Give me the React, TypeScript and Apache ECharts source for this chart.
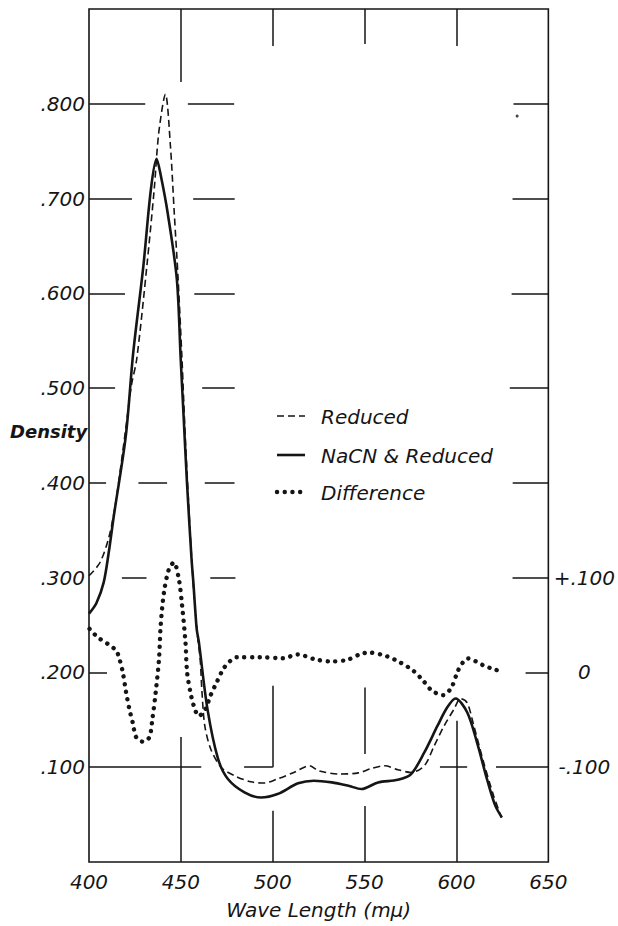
import React, { useEffect, useRef } from "react";
import * as echarts from "echarts";

// Wave length (mμ) and density
const reducedPoints: [number, number][] = [
  [400, 0.302], [406, 0.316], [411, 0.344], [414.5, 0.379], [420, 0.457],
  [423, 0.502], [426, 0.531], [431.5, 0.629], [435.5, 0.71], [438, 0.77],
  [441.6, 0.81], [444.3, 0.756], [446.4, 0.685], [448.5, 0.615], [450.6, 0.531],
  [452.6, 0.44], [456.5, 0.3], [459, 0.24], [460.5, 0.214], [461.5, 0.179],
  [463, 0.144], [466.3, 0.119], [472, 0.0998], [479.2, 0.091], [488.1, 0.0846],
  [495.3, 0.0833], [502.5, 0.0876], [511.5, 0.0945], [520, 0.1016], [525, 0.0963],
  [535.8, 0.0928], [546.6, 0.094], [553.7, 0.0987], [561, 0.1016], [568.1, 0.0974],
  [575.3, 0.0945], [582.5, 0.1016], [587.9, 0.1227], [593.3, 0.1438], [598.7, 0.1614],
  [602.2, 0.1725], [605.8, 0.168], [609.4, 0.144], [614.8, 0.105], [620.2, 0.07],
  [624.5, 0.047],
];

const nacnPoints: [number, number][] = [
  [400, 0.262], [404, 0.273], [408, 0.295], [411, 0.33], [413.5, 0.365], [420, 0.449],
  [424, 0.536], [429.6, 0.629], [433.7, 0.71], [436.8, 0.742], [439.1, 0.724],
  [442.8, 0.685], [447.8, 0.615], [449.9, 0.531], [451.5, 0.47], [453.3, 0.401],
  [455.8, 0.32], [456.8, 0.295], [458.6, 0.246], [459.8, 0.232], [464.5, 0.161],
  [470.2, 0.109], [475.6, 0.0876], [484.6, 0.0735], [493.6, 0.068], [502.6, 0.0717],
  [513.8, 0.083], [522.4, 0.0858], [532.2, 0.084], [541.2, 0.0804], [548.3, 0.077],
  [557.3, 0.084], [568.1, 0.0867], [575.3, 0.0927], [582.5, 0.1156], [589.7, 0.1438],
  [595, 0.1632], [599.5, 0.1725], [605.8, 0.158], [611.2, 0.126], [616.6, 0.0875],
  [621, 0.06], [624.7, 0.047],
];

// Difference, read on the right-hand axis
const differencePoints: [number, number][] = [
  [400.3, 0.046], [404.8, 0.037], [410.3, 0.03], [414.8, 0.023], [416.6, 0.014],
  [418.4, 0.0], [420.2, -0.021], [422, -0.039], [423.8, -0.053], [425.7, -0.0685],
  [429.2, -0.073], [432.8, -0.0685], [434.5, -0.049], [436.3, -0.021], [438.1, 0.014],
  [439, 0.049], [440.8, 0.0845], [443.5, 0.109], [446.2, 0.116], [448.9, 0.0985],
  [450.7, 0.07], [452.5, 0.032], [453.4, 0.0], [455.2, -0.021], [457, -0.035],
  [459.7, -0.046], [463.3, -0.039], [466, -0.025], [469.6, -0.01], [473.2, 0.004],
  [476.8, 0.012], [480.4, 0.016], [493, 0.016], [505.5, 0.015], [513.7, 0.019],
  [522.7, 0.014], [531.6, 0.0116], [540.6, 0.0133], [547.8, 0.0194], [552.3, 0.021],
  [562.2, 0.017], [569.3, 0.0106], [576.5, 0.0018], [582, -0.009], [586.5, -0.019],
  [592.7, -0.024], [597.2, -0.016], [600.8, 0.0018], [603.5, 0.0106], [606.2, 0.0148],
  [614.3, 0.0078], [621.4, 0.0027], [625.9, 0.001],
];

// stray speck in the print
const speckPoints: [number, number][] = [[633, 0.787]];

// hand-drawn partial grid: horizontal [x1, x2, density], vertical [wave, y1, y2]
const gridHorizontal: [number, number, number][] = [
  [400, 430.6, 0.8], [453.8, 479, 0.8], [631, 650, 0.8],
  [400, 423.4, 0.7], [456.7, 479.3, 0.7], [630.5, 650, 0.7],
  [400, 419.6, 0.6], [457.3, 479.3, 0.6], [630, 650, 0.6],
  [400, 414.2, 0.5], [461.6, 479.3, 0.5], [629, 650, 0.5],
  [400, 409.3, 0.4], [426.9, 442.5, 0.4], [463, 479.2, 0.4], [630.6, 650, 0.4],
  [417.9, 431.3, 0.3], [466, 479.7, 0.3], [630.5, 650, 0.3],
  [400, 409.8, 0.2], [637.6, 650, 0.2],
  [400, 461.1, 0.1], [484.4, 500, 0.1], [591, 605.8, 0.1], [621.5, 650, 0.1],
];
const gridVertical: [number, number, number][] = [
  [450, 0.823, 0.9], [450, 0, 0.132],
  [500, 0.861, 0.9], [500, 0.1, 0.186], [500, 0, 0.054],
  [550, 0.863, 0.9], [550, 0.114, 0.184], [550, 0, 0.059],
  [600, 0.861, 0.9], [600, 0, 0.149],
];

const legendNames = ["Reduced", "NaCN & Reduced", "Difference"];
const xAxisTitle = "Wave Length (mμ)";
const yAxisTitle = "Density";

const INK = "#151515";
const FONT = "DejaVu Sans";

const leftLabel = (v: number) => {
  const k = Math.round(v * 1000);
  if (k <= 0 || k >= 900) return "";
  return "." + String(k);
};
const rightLabel = (v: number) => {
  const k = Math.round(v * 1000);
  if (k === 100) return "+.100";
  if (k === 0) return "0";
  if (k === -100) return "-.100";
  return "";
};

const dashedStyle = { color: INK, width: 1.6, type: [7, 4] as number[] };
const solidStyle = { color: INK, width: 2.6 };
const dottedStyle = { color: INK, width: 4.4, type: [0.1, 7.6] as number[], cap: "round" as const };

export default function App() {
  const ref = useRef<HTMLDivElement>(null);

  useEffect(() => {
    if (!ref.current) return;
    const chart = echarts.init(ref.current, undefined, { renderer: "svg" });

    const labelStyle = {
      color: INK,
      fontFamily: FONT,
      fontStyle: "italic" as const,
      fontSize: 20,
    };
    const textStyle = {
      fill: INK,
      fontFamily: FONT,
      fontStyle: "italic",
      fontSize: 20,
    };

    const segments = [
      ...gridHorizontal.map(([x1, x2, y]) => [{ coord: [x1, y] }, { coord: [x2, y] }]),
      ...gridVertical.map(([x, y1, y2]) => [{ coord: [x, y1] }, { coord: [x, y2] }]),
    ];

    const legendRows = [
      { name: legendNames[0], y: 416, line: { stroke: INK, lineWidth: dashedStyle.width, lineDash: dashedStyle.type } },
      { name: legendNames[1], y: 455, line: { stroke: INK, lineWidth: solidStyle.width } },
      { name: legendNames[2], y: 492, line: { stroke: INK, lineWidth: dottedStyle.width, lineDash: dottedStyle.type, lineCap: "round" } },
    ];
    const legendGraphics = legendRows.flatMap((r) => [
      { type: "line", shape: { x1: 277, y1: r.y, x2: 305, y2: r.y }, style: r.line, silent: true },
      {
        type: "text",
        x: 321,
        y: r.y + 1,
        style: { ...textStyle, text: r.name, verticalAlign: "middle", align: "left" },
        silent: true,
      },
    ]);

    chart.setOption({
      animation: false,
      backgroundColor: "#ffffff",
      grid: {
        left: 89,
        right: 64,
        top: 9,
        bottom: 64,
        show: true,
        borderColor: INK,
        borderWidth: 1.6,
        backgroundColor: "transparent",
      },
      xAxis: {
        type: "value",
        min: 400,
        max: 650,
        interval: 50,
        axisLine: { show: false },
        axisTick: { show: false },
        splitLine: { show: false },
        axisLabel: { ...labelStyle, margin: 10, showMinLabel: true, showMaxLabel: true },
        name: xAxisTitle,
        nameLocation: "middle",
        nameGap: 38,
        nameTextStyle: { ...labelStyle },
      },
      yAxis: [
        {
          type: "value",
          min: 0,
          max: 0.9,
          interval: 0.1,
          axisLine: { show: false },
          axisTick: { show: false },
          splitLine: { show: false },
          axisLabel: { ...labelStyle, margin: 4, formatter: leftLabel },
        },
        {
          type: "value",
          position: "right",
          min: -0.2,
          max: 0.7,
          interval: 0.1,
          axisLine: { show: false },
          axisTick: { show: false },
          splitLine: { show: false },
          axisLabel: { ...labelStyle, margin: 36, align: "center", formatter: rightLabel },
        },
      ],
      graphic: [
        {
          type: "text",
          left: 10,
          top: 422,
          style: { ...textStyle, text: yAxisTitle, fontWeight: "bold", fontSize: 18 },
        },
        ...legendGraphics,
      ],
      series: [
        {
          name: legendNames[0],
          type: "line",
          data: reducedPoints,
          symbol: "none",
          showSymbol: false,
          smooth: 0.3,
          lineStyle: dashedStyle,
          itemStyle: { color: INK },
          z: 3,
        },
        {
          name: legendNames[1],
          type: "line",
          data: nacnPoints,
          symbol: "none",
          showSymbol: false,
          smooth: 0.3,
          lineStyle: solidStyle,
          itemStyle: { color: INK },
          z: 4,
          markLine: {
            silent: true,
            symbol: ["none", "none"],
            label: { show: false },
            emphasis: { disabled: true },
            lineStyle: { color: INK, width: 1.5, type: "solid" },
            data: segments,
          },
        },
        {
          name: legendNames[2],
          type: "line",
          yAxisIndex: 1,
          data: differencePoints,
          symbol: "none",
          showSymbol: false,
          smooth: 0.3,
          lineStyle: dottedStyle,
          itemStyle: { color: INK },
          z: 5,
        },
        {
          name: "speck",
          type: "scatter",
          data: speckPoints,
          symbolSize: 3,
          silent: true,
          itemStyle: { color: INK },
        },
      ],
    });

    return () => chart.dispose();
  }, []);

  return (
    <div
      ref={ref}
      style={{ position: "fixed", left: 0, top: 0, width: 618, height: 926, background: "#fff" }}
    />
  );
}
